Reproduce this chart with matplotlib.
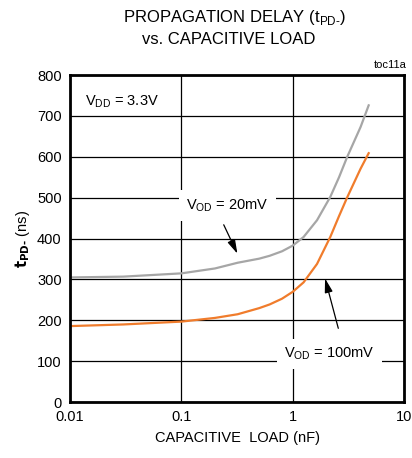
import matplotlib
matplotlib.use('Agg')
import matplotlib.pyplot as plt
import numpy as np

plt.rcParams['font.family'] = ['Liberation Sans', 'DejaVu Sans']

# capacitive load (nF) and propagation delay (ns)
cap_20mv = [0.01, 0.03, 0.1, 0.2, 0.32, 0.5, 0.62, 0.8, 1.0, 1.25, 1.65, 2.17, 2.6, 3.08, 4.06, 4.8]
tpd_20mv = [305, 307, 315, 327, 341, 351, 358, 369, 383, 404, 445, 502, 550, 600, 673, 726]
cap_100mv = [0.01, 0.03, 0.1, 0.2, 0.32, 0.5, 0.62, 0.8, 1.0, 1.25, 1.65, 2.17, 2.6, 3.08, 4.06, 4.8]
tpd_100mv = [186, 190, 197, 206, 215, 230, 239, 253, 270, 293, 338, 404, 455, 501, 571, 609]

x_ticks = [0.01, 0.1, 1, 10]
x_labels = ['0.01', '0.1', '1', '10']
y_ticks = [0, 100, 200, 300, 400, 500, 600, 700, 800]


def make_chart():
    fig = plt.figure(figsize=(4.12, 4.58), dpi=100)
    ax = fig.add_axes([0.170, 0.122, 0.811, 0.714])

    ax.plot(cap_20mv, tpd_20mv, color='#a6a6a6', lw=1.6)
    ax.plot(cap_100mv, tpd_100mv, color='#f07c2c', lw=1.6)

    ax.set_xscale('log')
    ax.set_xlim(0.01, 10)
    ax.set_ylim(0, 800)
    ax.set_xticks(x_ticks)
    ax.set_xticklabels(x_labels)
    ax.set_yticks(y_ticks)
    ax.minorticks_off()
    ax.tick_params(length=0, labelsize=10.5, pad=6)
    ax.grid(True, color='black', lw=0.9)
    for s in ax.spines.values():
        s.set_linewidth(2)

    box = dict(facecolor='white', edgecolor='none', pad=2)
    ax.text(0.0135, 735, r'V$_{\mathregular{DD}}$ = 3.3V', fontsize=10.5, va='center', ha='left', bbox=box)
    ax.text(0.26, 481, r'V$_{\mathregular{OD}}$ = 20mV', fontsize=10.5, va='center', ha='center',
            bbox=dict(facecolor='white', edgecolor='none', pad=5))
    ax.text(2.15, 118, r'V$_{\mathregular{OD}}$ = 100mV', fontsize=10.5, va='center', ha='center',
            bbox=dict(facecolor='white', edgecolor='none', pad=5))
    ax.annotate('', xy=(0.326, 357), xytext=(0.234, 440),
                arrowprops=dict(arrowstyle='-|>,head_length=0.7,head_width=0.2', color='black', lw=0.9, mutation_scale=12))
    ax.annotate('', xy=(1.92, 309), xytext=(2.6, 174),
                arrowprops=dict(arrowstyle='-|>,head_length=0.7,head_width=0.2', color='black', lw=0.9, mutation_scale=12))

    ax.set_xlabel('CAPACITIVE  LOAD (nF)', fontsize=10.5, labelpad=5)
    ax.set_ylabel('$\\mathbf{t}_{\\mathbf{PD\u2010}}$ (ns)', fontsize=10.5, labelpad=4)

    fig.text(0.57, 0.962, 'PROPAGATION DELAY (t$_{\\mathregular{PD\u2010}}$)', fontsize=12, ha='center', va='center')
    fig.text(0.554, 0.913, 'vs. CAPACITIVE LOAD', fontsize=12, ha='center', va='center')
    fig.text(0.988, 0.848, 'toc11a', fontsize=8, ha='right', va='bottom')

    fig.savefig('out.png', dpi=100)


if __name__ == '__main__':
    make_chart()
